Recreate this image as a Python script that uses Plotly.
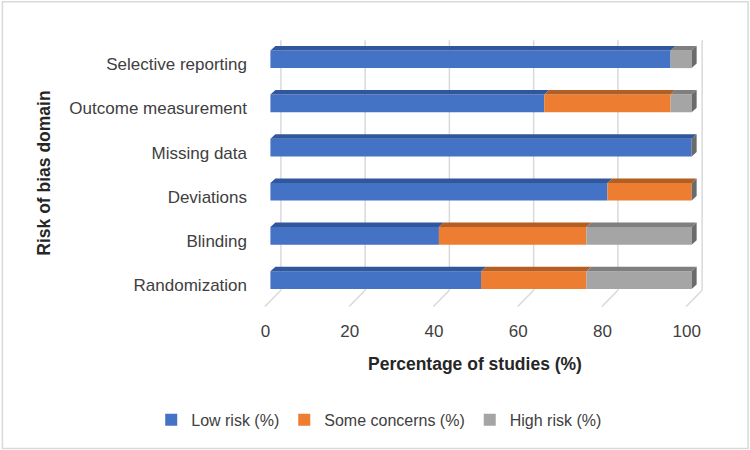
import plotly.graph_objects as go

# ---- data ----
domains = ["Randomization", "Blinding", "Deviations", "Missing data",
           "Outcome measurement", "Selective reporting"]
low_risk = [50, 40, 80, 100, 65, 95]
some_concerns = [25, 35, 20, 0, 30, 0]
high_risk = [25, 25, 0, 0, 5, 5]
series_names = ["Low risk (%)", "Some concerns (%)", "High risk (%)"]
x_ticks = [0, 20, 40, 60, 80, 100]

# ---- style ----
front_colors = ["#4472C4", "#ED7D31", "#A5A5A5"]
top_colors = ["#30569C", "#B35E22", "#7F7F7F"]
side_color = "#6B6B6B"
grid_color = "#D9D9D9"
FONT = "Liberation Sans"

px_per_x = 4.22
px_per_y = 44.2
bar_w = 0.4
dx = 5 / px_per_x      # 3D depth offset, x units
dy = 4.5 / px_per_y    # 3D depth offset, y units
gdx = 10.5 / px_per_x  # back wall offset
x_range = [-2.0, 111.0]
y_range = [-0.7, 5.55]

ypos = list(range(len(domains)))
series = [low_risk, some_concerns, high_risk]

fig = go.Figure()

# gridlines (back wall + floor) drawn below the bars
y_top = len(domains) - 1 + 0.43
y_floor_back = -0.23
y_floor_front = -0.6
grid_shapes = []
for t in x_ticks:
    grid_shapes.append(dict(type="line", xref="x", yref="y", layer="below",
                            x0=t + gdx, x1=t + gdx, y0=y_floor_back, y1=y_top,
                            line=dict(color=grid_color, width=1.5)))
    grid_shapes.append(dict(type="line", xref="x", yref="y", layer="below",
                            x0=t + gdx, x1=t - 1.3, y0=y_floor_back, y1=y_floor_front,
                            line=dict(color=grid_color, width=1.5)))

# bars
bases = [0] * len(domains)
seg_bounds = []
for name, vals, col in zip(series_names, series, front_colors):
    fig.add_trace(go.Bar(y=ypos, x=vals, base=bases[:], orientation="h",
                         name=name, marker=dict(color=col, line=dict(width=0)),
                         width=bar_w))
    seg_bounds.append([(b, b + v) for b, v in zip(bases, vals)])
    bases = [b + v for b, v in zip(bases, vals)]

# 3D top faces
for si, bounds in enumerate(seg_bounds):
    px, py = [], []
    for yi, (x0, x1) in zip(ypos, bounds):
        if x1 - x0 <= 0:
            continue
        yt = yi + bar_w / 2
        px += [x0, x1, x1 + dx, x0 + dx, x0, None]
        py += [yt, yt, yt + dy, yt + dy, yt, None]
    if px:
        fig.add_trace(go.Scatter(x=px, y=py, mode="lines", fill="toself",
                                 fillcolor=top_colors[si], line=dict(width=0),
                                 hoverinfo="skip", showlegend=False))

# 3D right side faces
sx, sy = [], []
for yi, tot in zip(ypos, bases):
    yb, yt = yi - bar_w / 2, yi + bar_w / 2
    sx += [tot, tot + dx, tot + dx, tot, tot, None]
    sy += [yb, yb + dy, yt + dy, yt, yb, None]
fig.add_trace(go.Scatter(x=sx, y=sy, mode="lines", fill="toself",
                         fillcolor=side_color, line=dict(width=0),
                         hoverinfo="skip", showlegend=False))

W, H = 750, 450
ml = 270 - (0 - x_range[0]) * px_per_x
pw = (x_range[1] - x_range[0]) * px_per_x
mr = W - ml - pw
mt = 280 - (y_range[1]) * px_per_y
ph = (y_range[1] - y_range[0]) * px_per_y
mb = H - mt - ph

def paper_x(pxl):
    return (pxl - ml) / pw

def paper_y(pxl):
    return 1 - (pxl - mt) / ph

border = dict(type="rect", xref="paper", yref="paper",
              x0=paper_x(1.5), x1=paper_x(W - 1.5),
              y0=paper_y(H - 1.5), y1=paper_y(1.5),
              line=dict(color="#D9D9D9", width=1.5), layer="below")

fig.update_layout(
    width=W, height=H,
    margin=dict(l=ml, r=mr, t=mt, b=mb, autoexpand=False),
    paper_bgcolor="white", plot_bgcolor="white",
    barmode="overlay",
    font=dict(family=FONT, size=17, color="#404040"),
    showlegend=True,
    legend=dict(orientation="h", xref="paper", yref="paper",
                x=paper_x(379), y=paper_y(420), xanchor="center", yanchor="middle",
                font=dict(size=16, color="#404040"), traceorder="normal",
                itemwidth=30),
    xaxis=dict(range=x_range, tickvals=x_ticks, showgrid=False, zeroline=False,
               showline=False, ticks="", ticklabelstandoff=8, ticklabelshift=-5,
               tickfont=dict(size=17)),
    yaxis=dict(range=y_range, tickvals=ypos, ticktext=domains, showgrid=False,
               zeroline=False, showline=False, ticks="", ticklabelstandoff=14,
               ticklabelshift=5, tickfont=dict(size=17),
               title=dict(text="<b>Risk of bias domain</b>",
                          font=dict(size=17.5, color="#262626"), standoff=14)),
    annotations=[dict(text="<b>Percentage of studies (%)</b>", xref="paper", yref="paper",
                      x=paper_x(475), y=paper_y(364), xanchor="center", yanchor="middle",
                      showarrow=False, font=dict(size=17.5, color="#262626"))],
    shapes=grid_shapes + [border],
)

fig.write_html("out.html")
